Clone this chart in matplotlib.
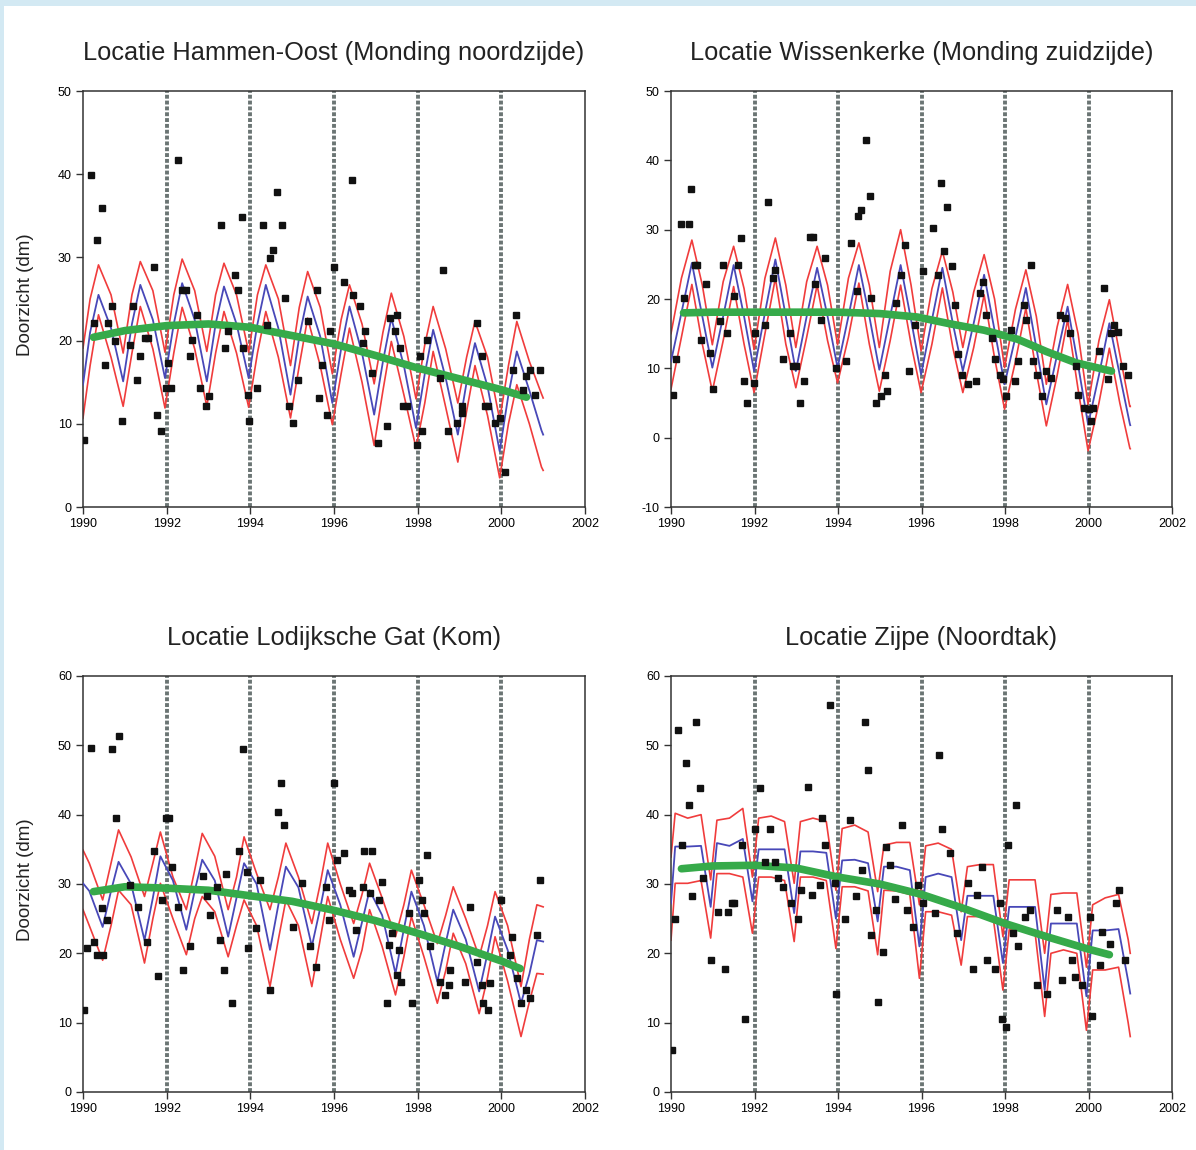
import matplotlib

matplotlib.use("Agg")
import matplotlib.pyplot as plt
from matplotlib.patches import Rectangle

plt.rcParams["font.family"] = ["Liberation Sans", "DejaVu Sans"]
plt.rcParams["axes.unicode_minus"] = False

W, H = 1196, 1150
YEARS = list(range(1990, 2001))
X_TICKS = list(range(1990, 2003, 2))
MARK_YEARS = [1992, 1994, 1996, 1998, 2000]

# --- Hammen-Oost (Monding noordzijde) ---------------------------------------
# curve knots: start 1990.0, 4 per year at the phases below, end 2001.0
HAM_PHASE = [0.17, 0.37, 0.67, 0.96]
HAM_RED_HI = [19.1,
              25, 29.1, 25.5, 18.5, 25.5, 29.5, 26, 18.6, 25.5, 29.8, 26, 18.7,
              25.5, 29.3, 25.5, 18.6, 25.5, 29.1, 25, 17, 24, 28.3, 24, 16,
              22.5, 26.7, 22, 14.8, 21, 25.7, 20.5, 13, 19.5, 24.1, 19, 12.5,
              18, 22.3, 18, 10.5, 17, 22.3, 17.5, 13.6,
              13.1]
HAM_BLUE = [14.7,
            21, 25.5, 21.5, 15.1, 22, 26.7, 22.5, 15.5, 22, 26.9, 22.5, 15.1,
            22, 26.5, 22, 15.5, 22, 26.7, 21.5, 13.5, 20.5, 25.3, 20.5, 12.5,
            19, 24.1, 18.5, 11.1, 17.5, 22.7, 17, 9.5, 16, 21.3, 15.5, 8.7,
            15, 19.7, 14.5, 6.7, 13.5, 18.7, 14, 9.2,
            8.7]
HAM_RED_LO = [10.7,
              17, 23.1, 18, 12.1, 18.5, 24.1, 19, 11.9, 18.5, 24, 19, 12.1,
              18.5, 23.5, 18.5, 12, 18.5, 23.5, 18, 10.7, 17, 22.7, 17, 9.9,
              16, 21.5, 15, 7.4, 14, 19.9, 13.5, 7.1, 12.5, 18.7, 12, 5.4,
              11.5, 17, 11, 3.5, 10, 14.7, 10, 4.8,
              4.4]
HAM_TREND_T = [1990.25, 1991, 1992, 1993, 1994, 1995, 1996, 1997, 1998, 1999, 2000, 2000.6]
HAM_TREND_V = [20.4, 21.2, 21.8, 22.0, 21.6, 20.6, 19.6, 18.2, 16.7, 15.4, 14.1, 13.2]
HAM_OBS_T = [1990.02, 1990.19, 1990.45, 1990.34, 1990.26, 1990.53, 1990.69, 1990.6, 1990.77,
             1990.93, 1991.12, 1991.2, 1991.28, 1991.36, 1991.48, 1991.56, 1991.7, 1991.78,
             1991.86, 1992.02, 1991.98, 1992.1, 1992.28, 1992.36, 1992.46, 1992.72, 1992.6,
             1992.56, 1992.8, 1992.94, 1993.0, 1993.31, 1993.39, 1993.47, 1993.63, 1993.71,
             1993.81, 1993.83, 1993.97, 1993.95, 1994.15, 1994.31, 1994.39, 1994.47, 1994.55,
             1994.64, 1994.75, 1994.83, 1995.03, 1994.93, 1995.15, 1995.39, 1995.6, 1995.65,
             1995.83, 1995.71, 1995.9, 1996.0, 1996.42, 1996.24, 1996.46, 1996.62, 1996.74,
             1996.7, 1996.9, 1997.06, 1997.26, 1997.34, 1997.5, 1997.46, 1997.58, 1997.74,
             1997.66, 1997.99, 1998.06, 1998.1, 1998.22, 1998.53, 1998.61, 1998.73, 1998.93,
             1999.05, 1999.07, 1999.41, 1999.53, 1999.61, 1999.69, 1999.85, 1999.97, 2000.09,
             2000.27, 2000.35, 2000.6, 2000.69, 2000.81, 2000.93, 2000.51]
HAM_OBS_V = [8.1, 39.9, 35.9, 32.1, 22.1, 17.1, 24.1, 22.1, 19.9,
             10.3, 19.5, 24.1, 15.3, 18.1, 20.3, 20.3, 28.9, 11.1,
             9.1, 17.3, 14.3, 14.3, 41.7, 26.1, 26.1, 23.1, 20.1,
             18.1, 14.3, 12.1, 13.3, 33.9, 19.1, 21.1, 27.9, 26.1,
             34.8, 19.1, 10.3, 13.5, 14.3, 33.9, 21.9, 29.9, 30.9,
             37.9, 33.9, 25.1, 10.1, 12.1, 15.3, 22.3, 26.1, 13.1,
             11.1, 17.1, 21.1, 28.9, 39.3, 27.1, 25.5, 24.1, 21.1,
             19.7, 16.1, 7.7, 9.7, 22.7, 23.1, 21.1, 19.1, 12.1,
             12.1, 7.5, 18.1, 9.1, 20.1, 15.5, 28.5, 9.1, 10.1,
             11.3, 12.1, 22.1, 18.1, 12.1, 12.1, 10.1, 10.7, 4.2,
             16.5, 23.1, 15.7, 16.5, 13.5, 16.5, 14.1]

# --- Wissenkerke (Monding zuidzijde) ----------------------------------------
WIS_PHASE = [0.25, 0.5, 0.75, 0.99]
WIS_RED_HI = [15,
              23, 28.5, 22, 13.4, 22.5, 27.6, 21.5, 12.7, 23, 28.8, 22, 13,
              22.5, 27.6, 22, 13.4, 23, 28.1, 22, 13, 24, 30, 22, 12.5,
              21.5, 26.9, 21, 13, 21, 26.4, 20, 10.1, 18.5, 24.2, 17.5, 7.7,
              16, 22.1, 15, 4.8, 14, 19.9, 12, 4.5,
              4.5]
WIS_BLUE = [11,
            18, 25.2, 17.5, 10.1, 17.5, 24.9, 17.5, 9.6, 18, 25.7, 17.5, 9.6,
            17.5, 24.5, 17.5, 10.1, 17.5, 24.9, 17.5, 9.8, 17.5, 24.9, 17, 9.1,
            17, 24.5, 16.5, 9.6, 16.5, 23.5, 15.5, 7.7, 14.5, 21.6, 13, 4.8,
            12, 18.9, 10.5, 1.9, 9, 16.5, 9, 2.0,
            1.8]
WIS_RED_LO = [7,
              14.5, 22.1, 13.5, 6.7, 14, 21.8, 13.5, 6.5, 15, 23, 13.5, 7.2,
              14.5, 22, 14, 7.9, 14.5, 22.3, 13.5, 6.7, 14, 22, 13.5, 6.5,
              13.5, 21.6, 13, 6.5, 13, 20.6, 11.5, 4.1, 11, 18.7, 9.5, 1.7,
              9, 17, 7, -1.9, 5, 12.9, 5, -1.5,
              -1.6]
WIS_TREND_T = [1990.3, 1991, 1992, 1993, 1994, 1995, 1995.9, 1996.7, 1997.5, 1998.3, 1999, 1999.7, 2000.55]
WIS_TREND_V = [18.0, 18.1, 18.1, 18.1, 18.1, 17.9, 17.4, 16.4, 15.5, 14.2, 12.4, 10.8, 9.6]
WIS_OBS_T = [1990.05, 1990.13, 1990.23, 1990.42, 1990.49, 1990.31, 1990.57, 1990.63, 1990.85,
             1990.73, 1990.93, 1991.0, 1991.17, 1991.25, 1991.33, 1991.52, 1991.6, 1991.68,
             1991.75, 1991.83, 1991.99, 1992.02, 1992.24, 1992.32, 1992.44, 1992.48, 1992.68,
             1992.84, 1992.92, 1993.0, 1993.1, 1993.19, 1993.32, 1993.39, 1993.44, 1993.6,
             1993.7, 1993.96, 1994.2, 1994.32, 1994.48, 1994.54, 1994.68, 1994.76, 1994.46,
             1994.8, 1994.92, 1995.04, 1995.18, 1995.12, 1995.4, 1995.52, 1995.6, 1995.69,
             1995.84, 1996.04, 1996.28, 1996.46, 1996.6, 1996.54, 1996.72, 1996.4, 1996.8,
             1996.88, 1996.96, 1997.12, 1997.31, 1997.39, 1997.47, 1997.55, 1997.69, 1997.75,
             1997.87, 1997.95, 1998.03, 1998.15, 1998.23, 1998.31, 1998.45, 1998.51, 1998.63,
             1998.67, 1998.77, 1998.88, 1998.99, 1999.11, 1999.31, 1999.43, 1999.55, 1999.75,
             1999.71, 1999.9, 2000.0, 2000.1, 2000.05, 2000.26, 2000.46, 2000.38, 2000.54,
             2000.62, 2000.7, 2000.82, 2000.94]
WIS_OBS_V = [6.2, 11.3, 30.8, 30.8, 35.9, 20.1, 24.9, 24.9, 22.1,
             14.1, 12.2, 7.0, 16.8, 24.9, 15.1, 20.4, 24.9, 28.8,
             8.2, 5.0, 7.9, 15.1, 16.3, 34.0, 23.0, 24.2, 11.3,
             15.1, 10.3, 10.3, 5.0, 8.2, 29.0, 28.9, 22.1, 17.0,
             25.9, 10.1, 11.0, 28.1, 31.9, 32.9, 42.9, 34.8, 21.1,
             20.1, 5.0, 6.0, 6.7, 9.1, 19.4, 23.5, 27.8, 9.6,
             16.3, 24.0, 30.2, 36.8, 33.3, 26.9, 24.7, 23.5, 19.2,
             12.0, 9.1, 7.7, 8.2, 20.9, 22.5, 17.7, 14.4, 11.3,
             9.1, 8.4, 6.0, 15.6, 8.2, 11.0, 19.2, 17.0, 24.9,
             11.0, 9.1, 6.0, 9.6, 8.6, 17.7, 17.3, 15.1, 6.2,
             10.3, 4.3, 4.1, 4.3, 2.4, 12.5, 8.4, 21.6, 15.1,
             16.3, 15.3, 10.3, 9.1]

# --- Lodijksche Gat (Kom) -----------------------------------------------------
LOD_PHASE = [0.15, 0.47, 0.67, 0.85]
LOD_RED_HI = [34.9,
              33, 27.7, 33, 37.8, 33.9, 28.2, 33, 37.5, 31, 26.3, 32, 37.3,
              34, 26.3, 31, 36.8, 31.5, 26.3, 31, 35.9, 31, 24.3, 30, 35.9,
              30, 24.3, 28.5, 33, 28, 22.4, 27, 32, 27, 21.4, 25.5, 29.6,
              25, 19.5, 24, 28.9, 24, 15.2, 22, 27,
              26.7]
LOD_BLUE = [30.1,
            29, 23.8, 29, 33.2, 30, 21.9, 28, 34, 30.5, 23.4, 29, 33.5,
            30.5, 22.4, 28, 33, 30, 20.5, 27, 32.5, 29.5, 21, 26.5, 32,
            27, 19.5, 24.5, 29.1, 25.5, 17.1, 23.5, 28.9, 24, 15.9, 21.5, 26.3,
            22, 14.5, 20, 25.3, 20.5, 12.8, 17, 21.9,
            21.7]
LOD_RED_LO = [26.3,
              24, 19, 24, 29.1, 27, 18.6, 25, 30.1, 25, 19.8, 25, 28.2,
              26, 19.5, 24, 27.7, 24, 15.2, 22, 27.7, 24, 15.2, 22, 28.2,
              22, 16.4, 20.5, 26.3, 21, 14, 19.5, 25.3, 19.5, 12.8, 17.5, 22.9,
              18.5, 11.3, 16.5, 22.4, 16, 8, 13, 17.1,
              17]
LOD_TREND_T = [1990.25, 1991, 1992, 1993, 1994, 1995, 1996, 1997, 1998, 1999, 2000, 2000.45]
LOD_TREND_V = [28.9, 29.6, 29.4, 29.1, 28.3, 27.5, 26.2, 24.7, 22.9, 21.0, 18.9, 17.8]
LOD_OBS_T = [1990.02, 1990.1, 1990.19, 1990.26, 1990.33, 1990.49, 1990.45, 1990.57, 1990.7,
             1990.87, 1990.79, 1991.12, 1991.32, 1991.52, 1991.8, 1991.7, 1991.88, 1991.98,
             1992.06, 1992.12, 1992.28, 1992.38, 1992.56, 1992.88, 1992.96, 1993.04, 1993.2,
             1993.27, 1993.37, 1993.55, 1993.43, 1993.74, 1993.82, 1993.92, 1993.95, 1994.14,
             1994.23, 1994.47, 1994.65, 1994.73, 1994.8, 1995.01, 1995.23, 1995.43, 1995.57,
             1995.82, 1995.89, 1996.0, 1996.06, 1996.25, 1996.36, 1996.44, 1996.52, 1996.71,
             1996.91, 1996.7, 1996.86, 1997.07, 1997.15, 1997.27, 1997.39, 1997.31, 1997.55,
             1997.5, 1997.59, 1997.79, 1997.87, 1998.02, 1998.1, 1998.14, 1998.22, 1998.3,
             1998.54, 1998.66, 1998.78, 1998.74, 1999.13, 1999.24, 1999.41, 1999.53, 1999.57,
             1999.69, 1999.73, 2000.0, 2000.25, 2000.21, 2000.37, 2000.48, 2000.6, 2000.68,
             2000.86, 2000.92]
LOD_OBS_V = [11.8, 20.7, 49.6, 21.7, 19.8, 19.8, 26.5, 24.8, 49.4,
             51.3, 39.5, 29.9, 26.7, 21.7, 16.7, 34.7, 27.7, 39.5,
             39.5, 32.5, 26.7, 17.6, 21.0, 31.1, 28.2, 25.5, 29.6,
             21.9, 17.6, 12.8, 31.5, 34.7, 49.4, 31.8, 20.7, 23.6,
             30.6, 14.7, 40.4, 44.5, 38.5, 23.8, 30.1, 21.0, 18.1,
             29.6, 24.8, 44.5, 33.5, 34.4, 29.1, 28.7, 23.4, 34.7,
             34.7, 29.6, 28.7, 27.7, 30.3, 12.8, 22.9, 21.2, 20.5,
             16.9, 15.9, 25.8, 12.8, 30.6, 27.7, 25.8, 34.2, 21.0,
             15.9, 14.0, 17.6, 15.4, 15.9, 26.7, 18.8, 15.4, 12.8,
             11.8, 15.7, 27.7, 22.4, 19.8, 16.4, 12.8, 14.7, 13.5,
             22.6, 30.6]

# --- Zijpe (Noordtak) -----------------------------------------------------------
ZIJ_PHASE = [0.1, 0.4, 0.72, 0.95]
ZIJ_RED_HI = [33.9,
              40.2, 39.5, 40, 30.6, 39.2, 39.5, 40.9, 31, 39.5, 39.8, 39, 30.1,
              39, 39.5, 39, 29.1, 38, 38.5, 37.5, 28.9, 35.6, 36, 36, 27,
              35.5, 35.9, 35, 26, 32.5, 32.8, 32.8, 22.4, 30.6, 30.6, 30.6, 20,
              28.5, 28.7, 28.7, 18, 27, 28, 28.5, 22,
              20]
ZIJ_BLUE = [27.2,
            35.4, 35.4, 35.5, 26.7, 35.9, 35.5, 36.5, 27.5, 35, 35, 35, 25.8,
            34.7, 34.7, 34.5, 25, 33.4, 33.5, 33, 24.6, 32.5, 32.5, 32, 21,
            31, 31.5, 31, 21.9, 28.3, 28.3, 28.3, 18.6, 26.7, 26.7, 26.7, 14.7,
            24.3, 24.3, 24.3, 13.8, 23.3, 23.3, 23.5, 16,
            14.2]
ZIJ_RED_LO = [21.9,
              30.1, 30.1, 30.5, 22.2, 31.5, 31.5, 31, 22.9, 31, 31, 30.5, 21.7,
              31, 31, 30.5, 20.7, 29.6, 29.6, 29, 19.8, 29.1, 29, 28.5, 16.4,
              26, 26, 25.5, 18.3, 25.3, 25.3, 25, 14.7, 23.4, 23.4, 23, 10.9,
              20, 20.5, 20, 8.9, 17.6, 17.6, 18, 10,
              8]
ZIJ_TREND_T = [1990.25, 1991, 1992, 1993, 1994, 1995, 1996, 1997, 1998, 1999, 2000, 2000.5]
ZIJ_TREND_V = [32.2, 32.6, 32.7, 32.3, 31.0, 30.0, 28.5, 26.5, 24.3, 22.4, 20.6, 19.8]
ZIJ_OBS_T = [1990.02, 1990.09, 1990.17, 1990.26, 1990.37, 1990.42, 1990.5, 1990.61, 1990.69,
             1990.77, 1990.95, 1991.13, 1991.29, 1991.37, 1991.45, 1991.52, 1991.7, 1991.78,
             1992.02, 1992.12, 1992.24, 1992.36, 1992.48, 1992.56, 1992.68, 1992.88, 1993.04,
             1993.12, 1993.28, 1993.38, 1993.56, 1993.62, 1993.68, 1993.8, 1993.96, 1993.92,
             1994.16, 1994.28, 1994.44, 1994.57, 1994.64, 1994.72, 1994.8, 1994.92, 1994.97,
             1995.08, 1995.16, 1995.24, 1995.36, 1995.53, 1995.65, 1995.8, 1995.92, 1996.04,
             1996.32, 1996.43, 1996.48, 1996.68, 1996.84, 1997.12, 1997.24, 1997.32, 1997.44,
             1997.56, 1997.76, 1997.88, 1997.92, 1998.02, 1998.08, 1998.2, 1998.26, 1998.32,
             1998.48, 1998.6, 1998.76, 1999.0, 1999.36, 1999.24, 1999.52, 1999.68, 1999.84,
             1999.6, 2000.04, 2000.08, 2000.28, 2000.32, 2000.52, 2000.72, 2000.67, 2000.87]
ZIJ_OBS_V = [6.1, 25, 52.2, 35.6, 47.4, 41.4, 28.2, 53.4, 43.9,
             30.8, 19, 26, 17.8, 26, 27.2, 27.2, 35.6, 10.6,
             38, 43.9, 33.2, 38, 33.2, 30.8, 29.6, 27.2, 25,
             29.1, 44, 28.4, 29.9, 39.5, 35.6, 55.8, 14.2, 30.1,
             25, 39.2, 28.2, 32, 53.4, 46.4, 22.6, 26.3, 13,
             20.2, 35.4, 32.7, 27.9, 38.5, 26.3, 23.8, 29.9, 27.2,
             25.8, 48.6, 38, 34.4, 22.9, 30.1, 17.8, 28.4, 32.5,
             19, 17.8, 27.2, 10.6, 9.4, 35.6, 22.9, 41.4, 21,
             25.3, 26.3, 15.4, 14.2, 16.2, 26.3, 25.3, 16.6, 15.4,
             19, 25.3, 10.9, 18.3, 23.1, 21.4, 29.1, 27.2, 19]

PANELS = [
    dict(title="Locatie Hammen-Oost (Monding noordzijde)", box=(83, 91, 585, 507),
         ylim=(0, 50), yticks=range(0, 51, 10), ylabel=True,
         phase=HAM_PHASE, red_hi=HAM_RED_HI, blue=HAM_BLUE, red_lo=HAM_RED_LO,
         trend=(HAM_TREND_T, HAM_TREND_V), obs=(HAM_OBS_T, HAM_OBS_V)),
    dict(title="Locatie Wissenkerke (Monding zuidzijde)", box=(671, 91, 1172, 507),
         ylim=(-10, 50), yticks=range(-10, 51, 10), ylabel=False,
         phase=WIS_PHASE, red_hi=WIS_RED_HI, blue=WIS_BLUE, red_lo=WIS_RED_LO,
         trend=(WIS_TREND_T, WIS_TREND_V), obs=(WIS_OBS_T, WIS_OBS_V)),
    dict(title="Locatie Lodijksche Gat (Kom)", box=(83, 676, 585, 1092),
         ylim=(0, 60), yticks=range(0, 61, 10), ylabel=True,
         phase=LOD_PHASE, red_hi=LOD_RED_HI, blue=LOD_BLUE, red_lo=LOD_RED_LO,
         trend=(LOD_TREND_T, LOD_TREND_V), obs=(LOD_OBS_T, LOD_OBS_V)),
    dict(title="Locatie Zijpe (Noordtak)", box=(671, 676, 1172, 1092),
         ylim=(0, 60), yticks=range(0, 61, 10), ylabel=False,
         phase=ZIJ_PHASE, red_hi=ZIJ_RED_HI, blue=ZIJ_BLUE, red_lo=ZIJ_RED_LO,
         trend=(ZIJ_TREND_T, ZIJ_TREND_V), obs=(ZIJ_OBS_T, ZIJ_OBS_V)),
]

RED = "#f03c3c"
BLUE = "#4848b8"
GREEN = "#36aa4a"
SPINE = "#333333"


def knot_times(phase):
    return [1990.0] + [y + p for y in YEARS for p in phase] + [2001.0]


fig = plt.figure(figsize=(W / 100, H / 100), dpi=100)
fig.patch.set_facecolor("#d3e9f3")
fig.add_artist(Rectangle((4 / W, 0), 1, 1 - 6 / H, transform=fig.transFigure,
                         facecolor="white", edgecolor="none", zorder=0))

for p in PANELS:
    x0, y0, x1, y1 = p["box"]
    ax = fig.add_axes([x0 / W, 1 - y1 / H, (x1 - x0) / W, (y1 - y0) / H])
    ax.set_facecolor("white")

    # the dashed year markers
    for yr in MARK_YEARS:
        ax.axvline(yr, color="#6b7574", lw=2.8, ls=(0, (1.0, 0.5)), zorder=1)

    t = knot_times(p["phase"])
    ax.plot(t, p["red_hi"], color=RED, lw=1.2, zorder=2)
    ax.plot(t, p["red_lo"], color=RED, lw=1.2, zorder=2)
    ax.plot(t, p["blue"], color=BLUE, lw=1.3, zorder=3)
    ax.plot(*p["trend"], color=GREEN, lw=5.5, solid_capstyle="round", zorder=4)
    ax.plot(*p["obs"], ls="none", marker="s", ms=4.8, color="#111111", zorder=5)

    ax.set_xlim(1990, 2002)
    ax.set_ylim(*p["ylim"])
    ax.set_xticks(X_TICKS)
    ax.set_yticks(list(p["yticks"]))
    ax.tick_params(direction="out", length=5, width=1, color=SPINE,
                   labelsize=9, pad=3, top=False, right=False)
    for s in ax.spines.values():
        s.set_color(SPINE)
        s.set_linewidth(1.1)

    fig.text(((x0 + x1) / 2) / W, 1 - (y0 - 38) / H, p["title"],
             ha="center", va="center", fontsize=18.3, color="#222222")
    if p["ylabel"]:
        fig.text(25 / W, 1 - ((y0 + y1) / 2 - 4) / H, "Doorzicht (dm)",
                 rotation=90, ha="center", va="center", fontsize=13.5, color="#222222")

fig.savefig("out.png", dpi=100)
